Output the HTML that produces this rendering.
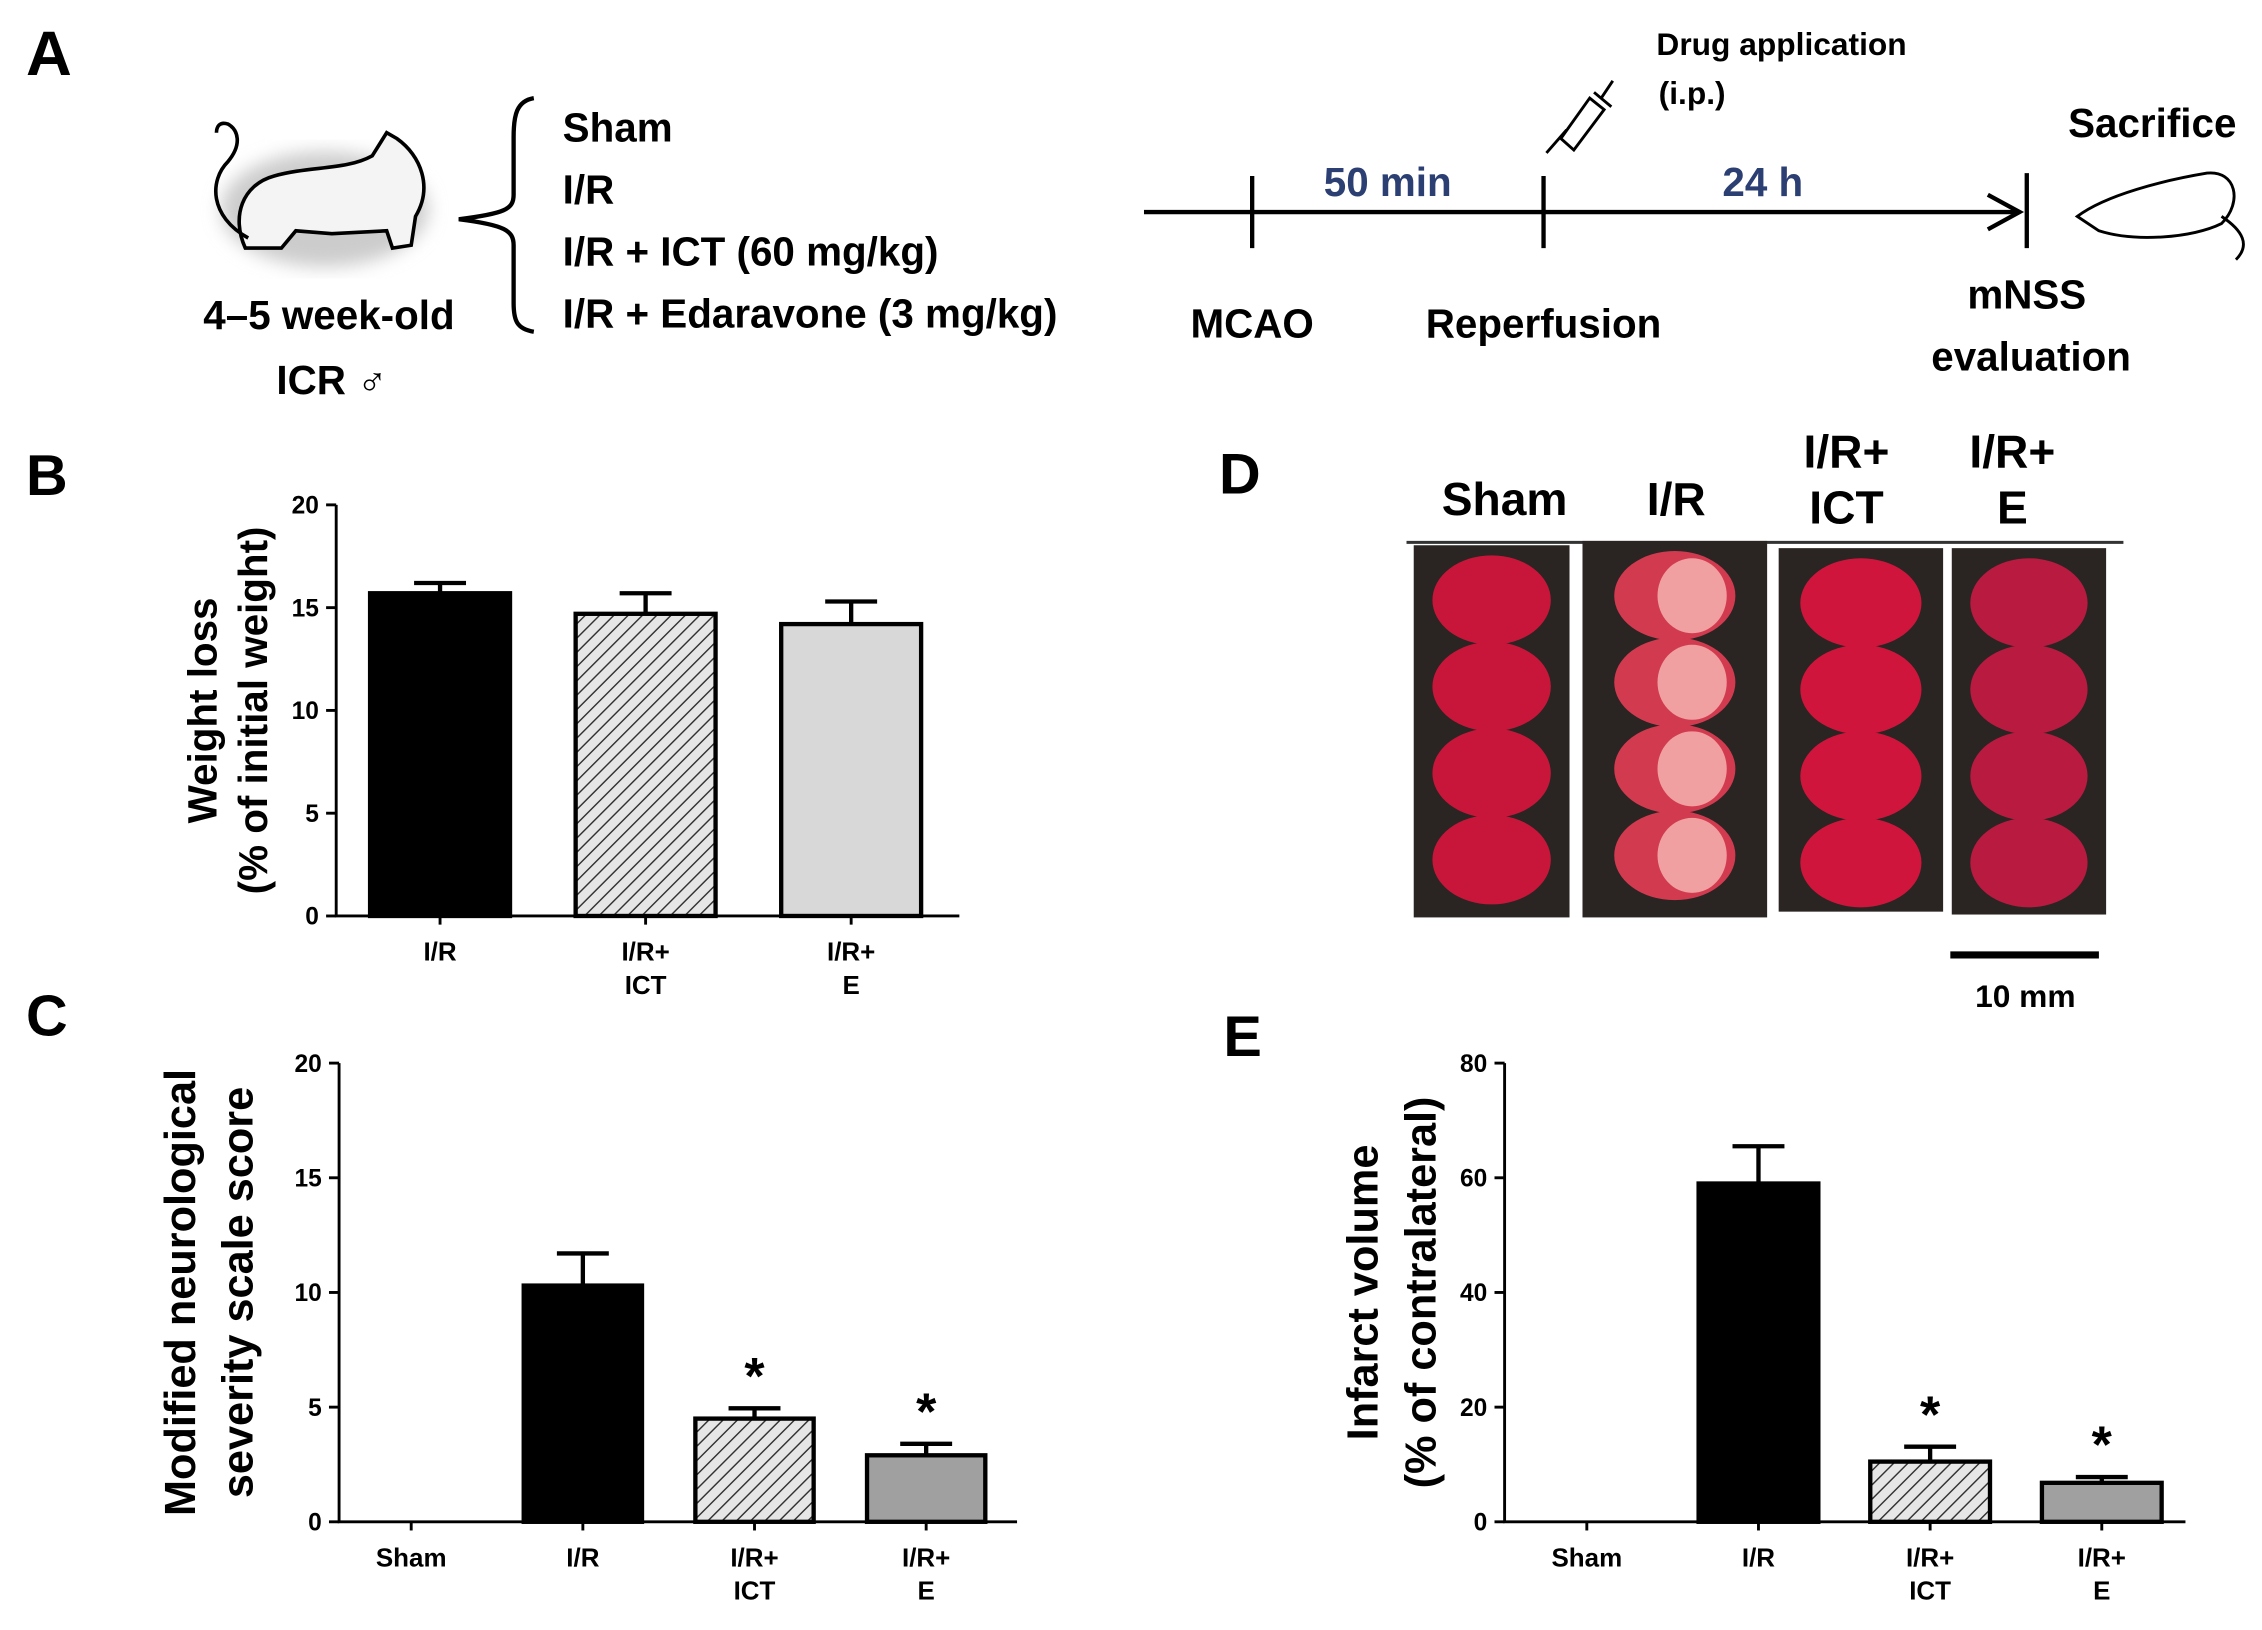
<!DOCTYPE html>
<html><head><meta charset="utf-8"><style>
html,body{margin:0;padding:0;background:#fff;}
svg{display:block;}
text{font-family:"Liberation Sans",sans-serif;}
</style></head><body>
<svg id="fig" width="2262" height="1630" viewBox="0 0 1568 1130" xmlns="http://www.w3.org/2000/svg">
<defs>
<pattern id="hatch" patternUnits="userSpaceOnUse" width="7" height="7" patternTransform="rotate(45)">
<rect width="7" height="7" fill="#e6e6e6"/><line x1="0" y1="0" x2="0" y2="7" stroke="#333" stroke-width="2"/>
</pattern>
<filter id="blur"><feGaussianBlur stdDeviation="6"/></filter>
</defs>

<!-- Panel A -->
<g font-weight="bold">
<text x="18" y="52" font-size="44">A</text>
<g>
<ellipse cx="225" cy="145" rx="72" ry="40" fill="#ccc" filter="url(#blur)"/>
<path d="M170,172 C160,150 168,128 190,122 C215,115 240,118 258,108 L268,92 L275,96 C292,108 300,130 288,150 L285,170 L272,172 L268,160 L230,162 L205,160 L195,172 Z" fill="#f4f4f4" stroke="#000" stroke-width="2.5"/>
<path d="M172,165 C145,150 145,125 158,112 C168,100 165,90 158,86 C152,84 150,88 150,92" fill="none" stroke="#000" stroke-width="2.5"/>
</g>
<text x="228" y="228" font-size="28" text-anchor="middle">4–5 week-old</text>
<text x="230" y="273" font-size="28" text-anchor="middle">ICR ♂</text>
<path d="M370,68 C358,70 356,80 356,95 L356,135 C356,145 350,148 318,152 C350,156 356,160 356,170 L356,210 C356,222 358,228 370,230" fill="none" stroke="#000" stroke-width="3"/>
<g font-size="28">
<text x="390" y="98">Sham</text>
<text x="390" y="141">I/R</text>
<text x="390" y="184">I/R + ICT (60 mg/kg)</text>
<text x="390" y="227">I/R + Edaravone (3 mg/kg)</text>
</g>
<g>
<line x1="793" y1="147" x2="1398" y2="147" stroke="#000" stroke-width="3"/>
<path d="M1378,135 L1400,147 L1378,159" fill="none" stroke="#000" stroke-width="3"/>
<line x1="868" y1="122" x2="868" y2="172" stroke="#000" stroke-width="3"/>
<line x1="1070" y1="122" x2="1070" y2="172" stroke="#000" stroke-width="3"/>
<line x1="1405" y1="120" x2="1405" y2="172" stroke="#000" stroke-width="3"/>
<text x="962" y="136" font-size="28" fill="#2b3f73" text-anchor="middle">50 min</text>
<text x="1222" y="136" font-size="28" fill="#2b3f73" text-anchor="middle">24 h</text>
<text x="868" y="234" font-size="28" text-anchor="middle">MCAO</text>
<text x="1070" y="234" font-size="28" text-anchor="middle">Reperfusion</text>
<text x="1405" y="214" font-size="28" text-anchor="middle">mNSS</text>
<text x="1408" y="257" font-size="28" text-anchor="middle">evaluation</text>
<text x="1492" y="95" font-size="28" text-anchor="middle">Sacrifice</text>
<text x="1235" y="38" font-size="22" text-anchor="middle">Drug application</text>
<text x="1173" y="72" font-size="22" text-anchor="middle">(i.p.)</text>
<g fill="none" stroke="#000" stroke-width="2">
<path d="M1072,106 L1086,90 M1082,96 L1102,68 L1112,76 L1091,104 Z M1105,64 L1117,74 M1110,68 L1118,56"/>
</g>
<g fill="none" stroke="#000" stroke-width="2">
<path d="M1440,150 C1460,135 1500,125 1530,120 C1550,118 1555,140 1540,155 C1520,165 1480,168 1455,160 Z M1540,150 C1555,160 1560,170 1550,180"/>
</g>
</g>

<!-- Panel D -->
<g>
<text x="845" y="342" font-size="40" font-weight="bold">D</text>
<g font-size="32" font-weight="bold" text-anchor="middle">
<text x="1043" y="357">Sham</text>
<text x="1162" y="357">I/R</text>
<text x="1280" y="324">I/R+</text>
<text x="1280" y="363">ICT</text>
<text x="1395" y="324">I/R+</text>
<text x="1395" y="363">E</text>
</g>
<line x1="975" y1="376" x2="1472" y2="376" stroke="#333" stroke-width="2"/>
<g id="slices"></g>
<line x1="1352" y1="662" x2="1455" y2="662" stroke="#000" stroke-width="5"/>
<text x="1404" y="698" font-size="22" font-weight="bold" text-anchor="middle">10 mm</text>
</g>

<g id="charts"></g>
</svg>
<script>
// Panel B data
const bCats = [["I/R"],["I/R+","ICT"],["I/R+","E"]];
const bVals = [15.7, 14.7, 14.2];
const bErrs = [0.5, 1.0, 1.1];
const bTicks = [0,5,10,15,20];
// Panel C data
const cCats = [["Sham"],["I/R"],["I/R+","ICT"],["I/R+","E"]];
const cVals = [0, 10.3, 4.5, 2.9];
const cErrs = [0, 1.4, 0.45, 0.5];
const cTicks = [0,5,10,15,20];
const cStars = [false,false,true,true];
// Panel E data
const eCats = [["Sham"],["I/R"],["I/R+","ICT"],["I/R+","E"]];
const eVals = [0, 59, 10.5, 6.8];
const eErrs = [0, 6.5, 2.6, 1.0];
const eTicks = [0,20,40,60,80];
const eStars = [false,false,true,true];

const NS="http://www.w3.org/2000/svg";
const root=document.getElementById('charts');
function mk(tag,attrs,parent,txt){const e=document.createElementNS(NS,tag);for(const k in attrs)e.setAttribute(k,attrs[k]);if(txt!==undefined)e.textContent=txt;(parent||root).appendChild(e);return e;}

function chart(o){
  const g=mk('g',{});
  
  
  const y=v=>o.y0-(v/o.max)*(o.y0-o.y1);
  const lbl=mk('text',{x:o.lx,y:o.ly,'font-size':40,'font-weight':'bold'},g,o.label);
  
  
  const ax=mk('path',{d:`M${o.ax},${o.y1} L${o.ax},${o.y0} L${o.xend},${o.y0}`,fill:'none',stroke:'#000','stroke-width':2},g);
  
  
  o.ticks.forEach(t=>{
    mk('line',{x1:o.ax-7,x2:o.ax,y1:y(t),y2:y(t),stroke:'#000','stroke-width':2},g);
    const tl=mk('text',{x:o.ax-12,y:y(t)+6,'font-size':17,'text-anchor':'end'},g,t);
    
    
  });
  o.cats.forEach((c,i)=>{
    const cx=o.c0+o.step*i;
    mk('line',{x1:cx,x2:cx,y1:o.y0,y2:o.y0+6,stroke:'#000','stroke-width':2},g);
    c.forEach((s,j)=>{
      const t=mk('text',{x:cx,y:o.y0+31+j*23,'font-size':18,'text-anchor':'middle'},g,s);
      
      
    });
    const v=o.vals[i];
    if(v>0){
      const e=o.errs[i];
      mk('line',{x1:cx,x2:cx,y1:y(v),y2:y(v+e),stroke:'#000','stroke-width':3},g);
      mk('line',{x1:cx-18,x2:cx+18,y1:y(v+e),y2:y(v+e),stroke:'#000','stroke-width':3},g);
      const b=mk('rect',{x:cx-o.bw/2,y:y(v),width:o.bw,height:o.y0-y(v),fill:o.fills[i],stroke:'#000','stroke-width':3},g);
      
      
      if(o.stars&&o.stars[i]){
        const st=mk('text',{x:cx,y:y(v+e)-10,'font-size':36,'font-weight':'bold','text-anchor':'middle'},g,'*');
        
        
      }
    }
  });
  const tt=mk('text',{transform:`translate(${o.tx},${(o.y0+o.y1)/2}) rotate(-90)`,'font-size':o.tfs,'font-weight':'bold','text-anchor':'middle'},g);
  
  
  o.title.forEach((s,j)=>mk('tspan',{x:0,y:j*o.tls},tt,s));
}

chart({name:'weight-loss-chart',label:'B',lx:18,ly:343,ax:233,y0:635,y1:350,xend:665,c0:305,step:142.5,max:20,ticks:bTicks,cats:bCats,vals:bVals,errs:bErrs,bw:97,
  fills:['#000','url(#hatch)','#d8d8d8'],tx:150,tfs:28,tls:35,title:['Weight loss','(% of initial weight)']});
chart({name:'mnss-chart',label:'C',lx:18,ly:718,ax:235,y0:1055,y1:737,xend:705,c0:285,step:119,max:20,ticks:cTicks,cats:cCats,vals:cVals,errs:cErrs,bw:82,stars:cStars,
  fills:['#000','#000','url(#hatch)','#a0a0a0'],tx:135,tfs:30,tls:40,title:['Modified neurological','severity scale score']});
chart({name:'infarct-volume-chart',label:'E',lx:848,ly:732,ax:1043,y0:1055,y1:737,xend:1515,c0:1100,step:119,max:80,ticks:eTicks,cats:eCats,vals:eVals,errs:eErrs,bw:83,stars:eStars,
  fills:['#000','#000','url(#hatch)','#a0a0a0'],tx:955,tfs:30,tls:40,title:['Infarct volume','(% of contralateral)']});

// Brain slice photos (illustrative)
const sl=document.getElementById('slices');
const plates=[[980,378,108,258,'#c8163a','sham'],[1097,375,128,261,'#d23a50','ir'],[1233,380,114,252,'#d0153c','ict'],[1353,380,107,254,'#b81a40','e']];
plates.forEach(p=>{
  const r=mk('rect',{x:p[0],y:p[1],width:p[2],height:p[3],fill:'#2a2422'},sl);
  
  
  const cx=p[0]+p[2]/2;
  for(let k=0;k<4;k++){
    const cy=p[1]+38+k*60;
    mk('ellipse',{cx:cx,cy:cy,rx:Math.min(p[2]*0.38,42),ry:31,fill:p[4]},sl);
    if(p[5]==='ir') mk('ellipse',{cx:cx+12,cy:cy,rx:24,ry:26,fill:'#f0a0a0'},sl);
  }
});
</script>
</body></html>
